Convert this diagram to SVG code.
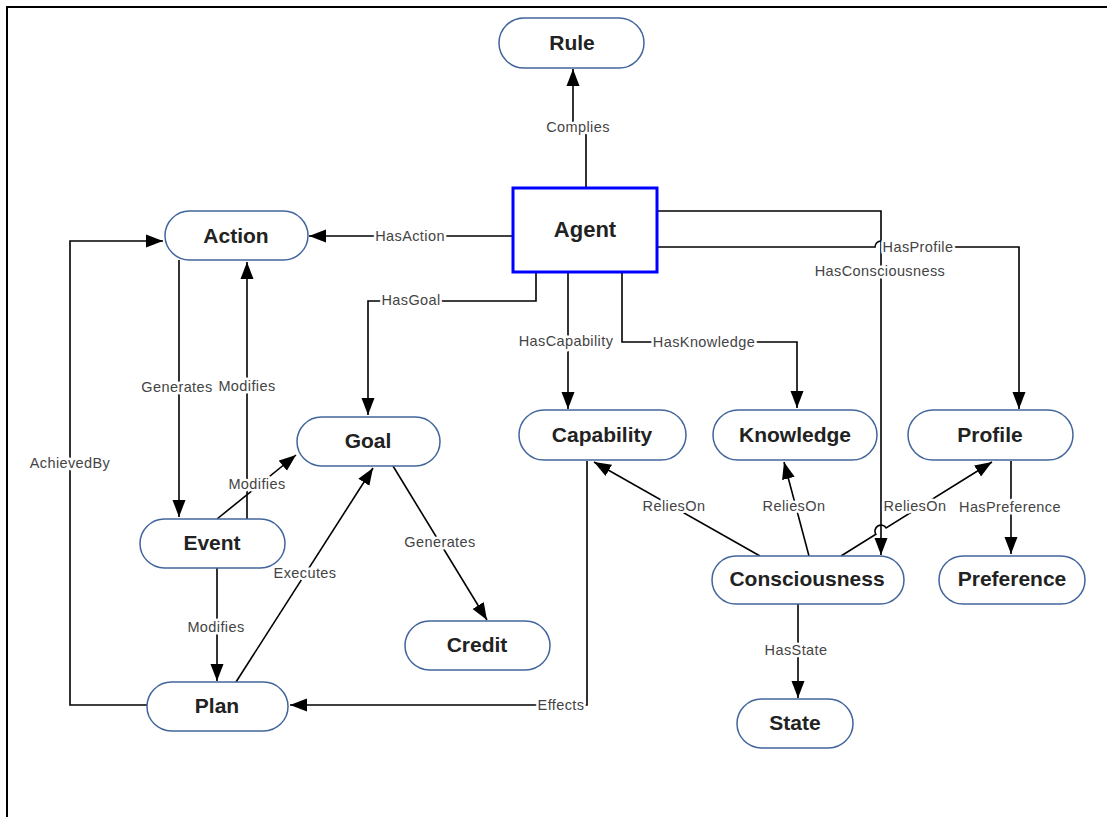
<svg xmlns="http://www.w3.org/2000/svg" width="1107" height="817" viewBox="0 0 1107 817">
<defs>
<style>
.node rect{fill:#fff;stroke:#41659c;stroke-width:1.5}
.node text{font-family:"Liberation Sans",Arial,sans-serif;font-weight:bold;font-size:21px;fill:#222;text-anchor:middle}
#connectors path{fill:none;stroke:#000;stroke-width:1.6}
.lbl{font-family:"Liberation Sans",Arial,sans-serif;font-size:14.5px;letter-spacing:0.4px;fill:#444;text-anchor:middle;stroke:#fff;stroke-width:5px;paint-order:stroke;stroke-linejoin:round}
</style>
<marker id="arr" markerUnits="userSpaceOnUse" markerWidth="18" markerHeight="14" refX="17" refY="6.5" orient="auto" viewBox="0 0 18 13">
<path d="M0,0 L17,6.5 L0,13 z" fill="#000"/>
</marker>
</defs>
<rect width="1107" height="817" fill="#fff"/>
<path d="M7,817 V7 H1107" fill="none" stroke="#000" stroke-width="2"/>

<g id="connectors">
<path d="M586,188 L586,130 L573,124 L573,69" marker-end="url(#arr)"/>
<path d="M513,236 L309,236" marker-end="url(#arr)"/>
<path d="M536,272 V301 H368 V415" marker-end="url(#arr)"/>
<path d="M568,272 V409" marker-end="url(#arr)"/>
<path d="M622,272 V342 H797 V408" marker-end="url(#arr)"/>
<path d="M657,211 H881 V555" marker-end="url(#arr)"/>
<path d="M657,247 H875 A6,6 0 0 1 887,247 H1019 V409" marker-end="url(#arr)"/>
<path d="M179,260 V517" marker-end="url(#arr)"/>
<path d="M247,519 V262" marker-end="url(#arr)"/>
<path d="M217,519 L296,455" marker-end="url(#arr)"/>
<path d="M236,682 L373,468" marker-end="url(#arr)"/>
<path d="M217,568 V681" marker-end="url(#arr)"/>
<path d="M147,705 H70 V241 H163" marker-end="url(#arr)"/>
<path d="M393,466 L487,620" marker-end="url(#arr)"/>
<path d="M587,461 V705 H290" marker-end="url(#arr)"/>
<path d="M760,556 L594,462" marker-end="url(#arr)"/>
<path d="M809,556 L784,462" marker-end="url(#arr)"/>
<path d="M841,556 L875.9,534.3 A6,6 0 0 1 886.1,527.9 L992,462" marker-end="url(#arr)"/>
<path d="M1011,461 V554" marker-end="url(#arr)"/>
<path d="M798,604 V698" marker-end="url(#arr)"/>
<text class="lbl" x="578" y="132">Complies</text>
<text class="lbl" x="410" y="241">HasAction</text>
<text class="lbl" x="411" y="305">HasGoal</text>
<text class="lbl" x="566" y="346">HasCapability</text>
<text class="lbl" x="704" y="347">HasKnowledge</text>
<text class="lbl" x="880" y="276">HasConsciousness</text>
<text class="lbl" x="918" y="252">HasProfile</text>
<text class="lbl" x="177" y="392">Generates</text>
<text class="lbl" x="247" y="391">Modifies</text>
<text class="lbl" x="257" y="489">Modifies</text>
<text class="lbl" x="305" y="578">Executes</text>
<text class="lbl" x="216" y="632">Modifies</text>
<text class="lbl" x="70" y="468">AchievedBy</text>
<text class="lbl" x="440" y="547">Generates</text>
<text class="lbl" x="561" y="710">Effects</text>
<text class="lbl" x="674" y="511">ReliesOn</text>
<text class="lbl" x="794" y="511">ReliesOn</text>
<text class="lbl" x="915" y="511">ReliesOn</text>
<text class="lbl" x="1010" y="512">HasPreference</text>
<text class="lbl" x="796" y="655">HasState</text>
</g>

<g id="node-rule" class="node"><rect x="499" y="18" width="145" height="50" rx="25"/><text x="572" y="50">Rule</text></g>
<g id="node-agent"><rect x="513" y="188" width="144" height="84" fill="#fff" stroke="#0000ff" stroke-width="3"/><text x="585" y="237" font-family="Liberation Sans,Arial,sans-serif" font-weight="bold" font-size="22px" fill="#222" text-anchor="middle">Agent</text></g>
<g id="node-action" class="node"><rect x="165" y="211" width="143" height="49" rx="24.5"/><text x="236" y="243">Action</text></g>
<g id="node-goal" class="node"><rect x="297" y="417" width="143" height="49" rx="24.5"/><text x="368" y="448">Goal</text></g>
<g id="node-capability" class="node"><rect x="519" y="410" width="167" height="50" rx="25"/><text x="602" y="442">Capability</text></g>
<g id="node-knowledge" class="node"><rect x="713" y="410" width="164" height="50" rx="25"/><text x="795" y="442">Knowledge</text></g>
<g id="node-profile" class="node"><rect x="908" y="410" width="165" height="50" rx="25"/><text x="990" y="442">Profile</text></g>
<g id="node-event" class="node"><rect x="140" y="519" width="145" height="49" rx="24.5"/><text x="212" y="550">Event</text></g>
<g id="node-consciousness" class="node"><rect x="712" y="556" width="192" height="48" rx="24"/><text x="807" y="586">Consciousness</text></g>
<g id="node-preference" class="node"><rect x="939" y="556" width="146" height="48" rx="24"/><text x="1012" y="586">Preference</text></g>
<g id="node-credit" class="node"><rect x="405" y="621" width="145" height="49" rx="24.5"/><text x="477" y="652">Credit</text></g>
<g id="node-plan" class="node"><rect x="147" y="682" width="141" height="49" rx="24.5"/><text x="217" y="713">Plan</text></g>
<g id="node-state" class="node"><rect x="737" y="699" width="116" height="49" rx="24.5"/><text x="795" y="730">State</text></g>
</svg>
